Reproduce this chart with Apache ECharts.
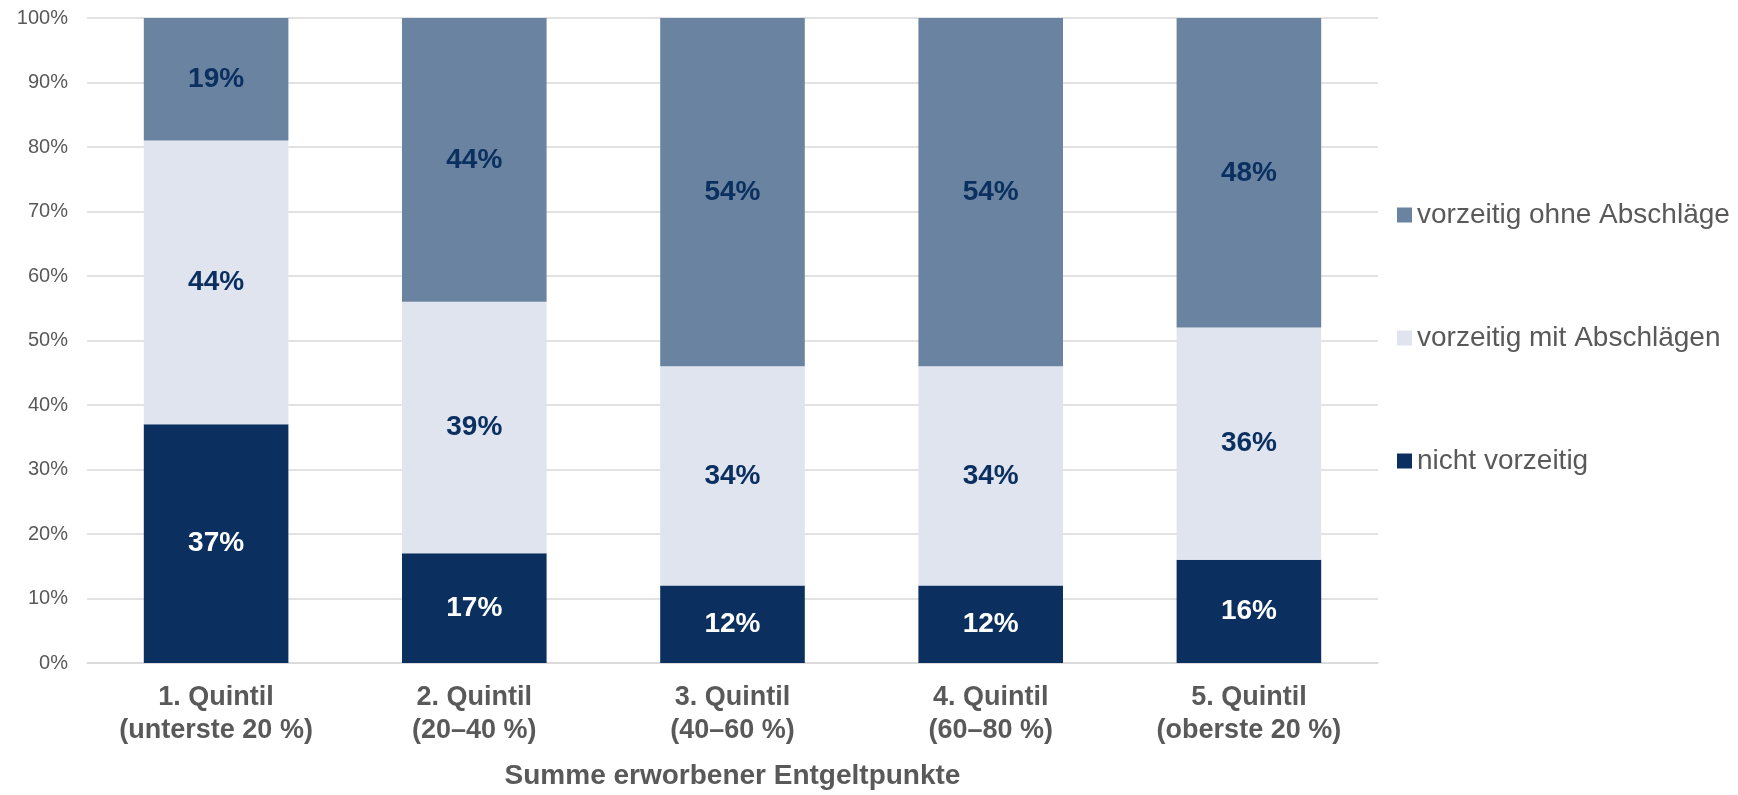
<!DOCTYPE html>
<html><head><meta charset="utf-8">
<script src="https://cdn.jsdelivr.net/npm/echarts@6/dist/echarts.min.js"></script>
<style>html,body{margin:0;padding:0;background:#fff}#c{width:1738px;height:795px}</style>
</head><body><div id="c"></div>
<script>
const categories = ['1. Quintil\n(unterste 20 %)','2. Quintil\n(20–40 %)','3. Quintil\n(40–60 %)','4. Quintil\n(60–80 %)','5. Quintil\n(oberste 20 %)'];
const nichtVorzeitig = [37,17,12,12,16];
const mitAbschlaegen = [44,39,34,34,36];
const ohneAbschlaege = [19,44,54,54,48];
const yTicks = [0,10,20,30,40,50,60,70,80,90,100];

const font = 'Liberation Sans, Arial, sans-serif';
const chart = echarts.init(document.getElementById('c'));
function lbl(color){return {show:true,position:'inside',formatter:'{c}%',color:color,fontFamily:font,fontWeight:'bold',fontSize:28};}
chart.setOption({
  animation:false,
  textStyle:{fontFamily:font},
  grid:{left:87,right:360,top:18,bottom:132,containLabel:false},
  legend:{
    orient:'vertical',left:1392,top:195,itemWidth:15,itemHeight:15,itemGap:93,
    data:['vorzeitig ohne Abschläge','vorzeitig mit Abschlägen','nicht vorzeitig'],
    textStyle:{color:'#595959',fontSize:28,lineHeight:30,fontFamily:font},
    icon:'rect'
  },
  xAxis:{
    type:'category',data:categories,
    axisLine:{lineStyle:{color:'#D9D9D9',width:1.5}},axisTick:{show:false},
    axisLabel:{color:'#595959',fontSize:27,fontWeight:'bold',fontFamily:font,margin:18,lineHeight:33},
    name:'Summe erworbener Entgeltpunkte',nameLocation:'middle',nameGap:99,
    nameTextStyle:{color:'#595959',fontSize:28,fontWeight:'bold',fontFamily:font}
  },
  yAxis:{
    type:'value',min:yTicks[0],max:yTicks[yTicks.length-1],interval:10,
    axisLabel:{formatter:'{value}%',color:'#595959',fontSize:20,fontFamily:font,margin:19},
    axisLine:{show:false},axisTick:{show:false},
    splitLine:{lineStyle:{color:'#D9D9D9',width:1.5}}
  },
  series:[
    {name:'nicht vorzeitig',type:'bar',stack:'s',data:nichtVorzeitig,barCategoryGap:'44%',itemStyle:{color:'#0B3060'},label:lbl('#FFFFFF')},
    {name:'vorzeitig mit Abschlägen',type:'bar',stack:'s',data:mitAbschlaegen,itemStyle:{color:'#DFE4EE'},label:lbl('#0B3060')},
    {name:'vorzeitig ohne Abschläge',type:'bar',stack:'s',data:ohneAbschlaege,itemStyle:{color:'#6983A1'},label:lbl('#0B3060')}
  ]
});
</script></body></html>
